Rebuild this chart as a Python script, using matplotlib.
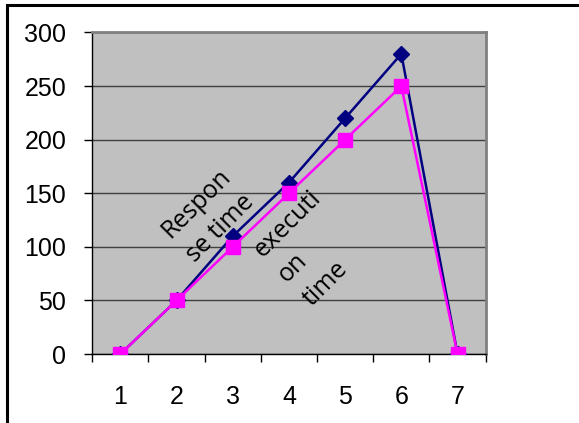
import matplotlib
matplotlib.use("Agg")
import matplotlib.pyplot as plt
from matplotlib.patches import Rectangle
from matplotlib.ticker import FixedLocator

# chart data
categories = [1, 2, 3, 4, 5, 6, 7]
response_time = [0, 50, 110, 160, 220, 280, 0]
execution_time = [0, 50, 100, 150, 200, 250, 0]
y_ticks = [0, 50, 100, 150, 200, 250, 300]

plt.rcParams['font.family'] = ['Liberation Sans', 'DejaVu Sans']

fig = plt.figure(figsize=(5.79, 4.23), dpi=100)
ax = fig.add_axes([0.1594, 0.1631, 0.6793, 0.7601])
ax.set_facecolor('#C0C0C0')

ax.plot(categories, response_time, color='#000080', lw=1.8,
        marker='D', markersize=8, zorder=3)
ax.plot(categories, execution_time, color='#FF00FF', lw=1.8,
        marker='s', markersize=10.5, zorder=4)

ax.set_xlim(0.5, 7.5)
ax.set_ylim(0, 300)
ax.set_yticks(y_ticks)
ax.yaxis.grid(True, color='#404040', lw=1.0)
ax.set_axisbelow(True)

# category labels centred, tick marks between categories
ax.set_xticks(categories)
ax.set_xticklabels([str(c) for c in categories])
ax.xaxis.set_minor_locator(FixedLocator([c - 0.5 for c in categories] + [7.5]))
ax.tick_params(axis='x', which='major', length=0, pad=22, labelsize=18)
ax.tick_params(axis='x', which='minor', length=5.8, width=1, color='black', direction='out')
ax.tick_params(axis='y', length=5.8, width=1, color='black', direction='out', pad=13, labelsize=18)

for s in ['top', 'right']:
    ax.spines[s].set_color('#808080')
    ax.spines[s].set_linewidth(2.0)
for s in ['left', 'bottom']:
    ax.spines[s].set_color('black')
    ax.spines[s].set_linewidth(1.0)

# series labels, left aligned and rotated
ax.text(2.20, 91, 'Respon\nse time', rotation=45, rotation_mode='anchor',
        ha='left', va='baseline', multialignment='left', fontsize=18,
        family=['Open Sans', 'DejaVu Sans'], linespacing=1.5, zorder=5)
ax.text(4.28, 50, 'executi\non\ntime', rotation=45, rotation_mode='anchor',
        ha='left', va='baseline', multialignment='left', fontsize=18,
        family=['Open Sans', 'DejaVu Sans'], linespacing=1.5, zorder=5)

# outer chart border (runs past the right and bottom edges)
W, H = 579, 423
fig.patches.append(Rectangle((7.4 / W, -0.05), 1.1, 1.05 - 5.5 / H,
                             transform=fig.transFigure, fill=False,
                             edgecolor='black', lw=2.2, clip_on=False))

fig.savefig('out.png', dpi=100)
